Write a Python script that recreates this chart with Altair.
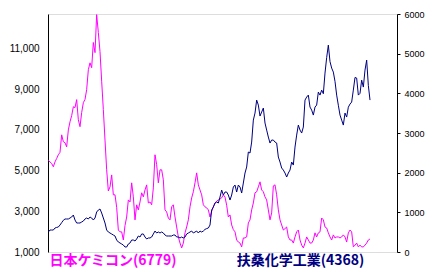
import altair as alt
import pandas as pd

weeks = list(range(2, 196))

chemicon = [
    5500, 5430, 5350, 5190, 5430, 5600, 5780, 5900, 6760, 6420,
    6370, 6170, 7000, 7400, 7700, 8140, 8100, 8490, 7500, 7160,
    7850, 8340, 8500, 8980, 9960, 10300, 10060, 11300, 10800, 12670,
    11790, 10850, 9400, 8000, 6500, 5040, 4000, 4200, 4790, 3810,
    3810, 3200, 2080, 1990, 1990, 1590, 2300, 2720, 3560, 3460,
    4400, 3710, 2580, 3320, 3070, 3460, 3910, 3710, 4050, 4300,
    3410, 3460, 3320, 4150, 5780, 5290, 4400, 5040, 5040, 4550,
    3070, 2970, 2670, 2580, 3220, 3320, 2720, 2230, 1740, 1440,
    1200, 1440, 1940, 2230, 2580, 3220, 3660, 3960, 4400, 4890,
    4300, 4050, 3810, 3320, 3220, 3170, 3070, 2720, 3000, 3220,
    3410, 3500, 3560, 3600, 3660, 3810, 3700, 3300, 2720, 2820,
    2330, 2100, 1990, 1590, 1490, 1440, 1250, 1690, 1690, 1740,
    2430, 2580, 3070, 3410, 3910, 3960, 4200, 4450, 4050, 3960,
    3710, 3560, 3070, 2580, 2920, 4250, 4300, 3810, 3070, 2580,
    2330, 2080, 2150, 2230, 1740, 1590, 1590, 1440, 1740, 1990,
    2080, 1590, 1340, 1200, 1440, 1740, 1590, 1440, 1440, 1590,
    1940, 1740, 1940, 1990, 2670, 2580, 2230, 2180, 1940, 1740,
    1590, 1840, 1690, 1740, 1740, 1690, 1740, 1840, 1740, 1490,
    1940, 2080, 1990, 1250, 1340, 1440, 1250, 1340, 1250, 1250,
    1340, 1440, 1590, 1640,
]

fuso = [
    504, 554, 554, 554, 605, 620, 630, 680, 740, 800,
    832, 832, 832, 857, 882, 932, 806, 731, 731, 731,
    756, 780, 832, 857, 832, 882, 857, 806, 857, 1008,
    1058, 1084, 983, 857, 731, 554, 504, 479, 454, 428,
    403, 302, 252, 227, 202, 176, 126, 126, 202, 227,
    302, 302, 277, 328, 403, 378, 454, 454, 378, 328,
    353, 353, 378, 454, 529, 479, 504, 479, 504, 479,
    428, 403, 403, 403, 403, 428, 428, 378, 378, 353,
    378, 353, 378, 454, 479, 504, 529, 479, 504, 529,
    479, 529, 504, 529, 570, 590, 605, 680, 1058, 1134,
    1235, 1260, 1235, 1386, 1562, 1436, 1512, 1512, 1436, 1310,
    1436, 1638, 1688, 1512, 1688, 1638, 1487, 1739, 1991, 2142,
    2520, 2495, 2772, 3326, 3503, 3830, 3704, 3427, 3528, 3629,
    3251, 3074, 2898, 2747, 2822, 2822, 2772, 2747, 2394, 2268,
    2117, 2066, 1991, 1890, 1991, 2066, 2268, 2192, 2646, 2948,
    3200, 3074, 2999, 3150, 3830, 3906, 3956, 3654, 3578, 3452,
    3654, 3704, 4032, 3956, 4082, 3990, 4511, 4900, 5216, 4800,
    4637, 4536, 4300, 3956, 3700, 3452, 3326, 3200, 3503, 3402,
    3650, 3730, 3780, 4082, 4400, 4385, 3956, 4000, 4334, 4158,
    4586, 4838, 4200, 3830,
]

left_ticks = [1000, 3000, 5000, 7000, 9000, 11000]
right_ticks = [0, 1000, 2000, 3000, 4000, 5000, 6000]
name_a = "日本ケミコン(6779)"
name_b = "扶桑化学工業(4368)"

df = pd.DataFrame({"week": weeks, "chemicon": chemicon, "fuso": fuso})

xenc = alt.X("week:Q", axis=None, scale=alt.Scale(domain=[1.8, 211.2], nice=False, zero=False))

line_a = alt.Chart(df).mark_line(color="#FF00FF", strokeWidth=1).encode(
    x=xenc,
    y=alt.Y("chemicon:Q", title=None,
            scale=alt.Scale(domain=[1000, 12700], nice=False, zero=False),
            axis=alt.Axis(orient="left", values=left_ticks, format=",d", ticks=False,
                          grid=False, labelPadding=9, domainColor="black",
                          labelFont="Liberation Sans", labelFontSize=10, labelColor="black")),
)

line_b = alt.Chart(df).mark_line(color="#000080", strokeWidth=1).encode(
    x=xenc,
    y=alt.Y("fuso:Q", title=None,
            scale=alt.Scale(domain=[0, 6000], nice=False, zero=False),
            axis=alt.Axis(orient="right", values=right_ticks, format="d", ticks=True,
                          tickSize=3, tickColor="black", grid=False, labelPadding=4,
                          domainColor="black",
                          labelFont="Liberation Sans", labelFontSize=9, labelColor="black")),
)

label_a = alt.Chart(pd.DataFrame({"t": [name_a]})).mark_text(
    color="#FF00FF", font="Noto Sans CJK JP", fontSize=14, fontWeight="bold",
    align="center", baseline="middle",
).encode(text="t:N", x=alt.value(65), y=alt.value(246.5))

label_b = alt.Chart(pd.DataFrame({"t": [name_b]})).mark_text(
    color="#000080", font="Noto Sans CJK JP", fontSize=14, fontWeight="bold",
    align="center", baseline="middle",
).encode(text="t:N", x=alt.value(252.5), y=alt.value(246.5))

chart = alt.layer(line_a, line_b, label_a, label_b).resolve_scale(y="independent").properties(
    width=349, height=238,
    autosize=alt.AutoSizeParams(type="none"),
    padding={"left": 48, "top": 14, "right": 39, "bottom": 24},
).configure_view(stroke=None).configure(background="white")

chart.save("out.html", embed_options={"renderer": "svg", "actions": False})
